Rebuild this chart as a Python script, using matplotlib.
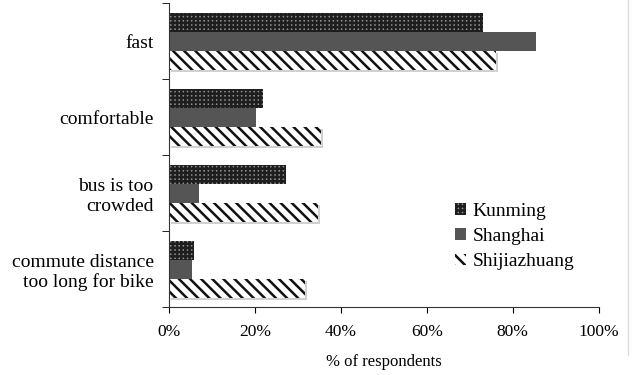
import matplotlib.pyplot as plt
from matplotlib.lines import Line2D
import numpy as np

plt.rcParams["font.family"] = ["Liberation Serif", "DejaVu Serif"]
plt.rcParams["hatch.linewidth"] = 1.8

categories = ["fast", "comfortable", "bus is too\ncrowded", "commute distance\ntoo long for bike"]
kunming = [73, 22, 27.2, 5.8]
shanghai = [85.3, 20.2, 7, 5.3]
shijiazhuang = [76, 35.3, 34.7, 31.6]

fig = plt.figure(figsize=(6.37, 3.75), dpi=100)
ax = fig.add_axes([0.265, 0.181, 0.675, 0.811])

y = np.arange(len(categories))
h = 0.25

ax.barh(y - h, kunming, height=h, facecolor="#8c8c8c", edgecolor="#1e1e1e",
        hatch="++++", linewidth=0, label="Kunming")
ax.barh(y, shanghai, height=h, color="#555555", linewidth=0, label="Shanghai")
# light shadow behind the striped bars
ax.barh(y + h + 0.03, shijiazhuang, height=h, left=0.5, color="#d0d0d0", linewidth=0)
ax.barh(y + h, shijiazhuang, height=h, facecolor="white", edgecolor="#111111",
        hatch="\\\\\\", linewidth=0, label="Shijiazhuang")

ax.set_ylim(len(categories) - 0.5, -0.5)
ax.set_xlim(0, 100)
ax.set_yticks(y)
ax.set_yticklabels(categories, fontsize=14, multialignment="right")
ax.set_yticks(np.arange(-0.5, len(categories)), minor=True)
ax.tick_params(axis="y", which="major", length=0, pad=11)
ax.tick_params(axis="y", which="minor", length=5, direction="out")

ax.set_xticks(np.arange(0, 101, 20))
ax.set_xticklabels([f"{v}%" for v in range(0, 101, 20)], fontsize=12.5)
ax.tick_params(axis="x", length=4, direction="out", pad=8)
ax.set_xlabel("% of respondents", fontsize=12, labelpad=10)

for s in ["top", "right"]:
    ax.spines[s].set_visible(False)
ax.spines["left"].set_color("#333333")
ax.spines["bottom"].set_color("#333333")

handles, labels = ax.get_legend_handles_labels()
fig.legend(handles, labels, loc="upper left", bbox_to_anchor=(455 / 637, 1 - 203 / 375),
           frameon=False, fontsize=14, handlelength=0.55, handleheight=0.55,
           handletextpad=0.36, labelspacing=0.42, borderpad=0, borderaxespad=0)

# faint border line at the right edge of the picture
fig.add_artist(Line2D([628 / 637, 628 / 637], [1 - 355 / 375, 1.0],
                      transform=fig.transFigure, color="#dddddd", linewidth=1))

fig.savefig("out.png", dpi=100)
